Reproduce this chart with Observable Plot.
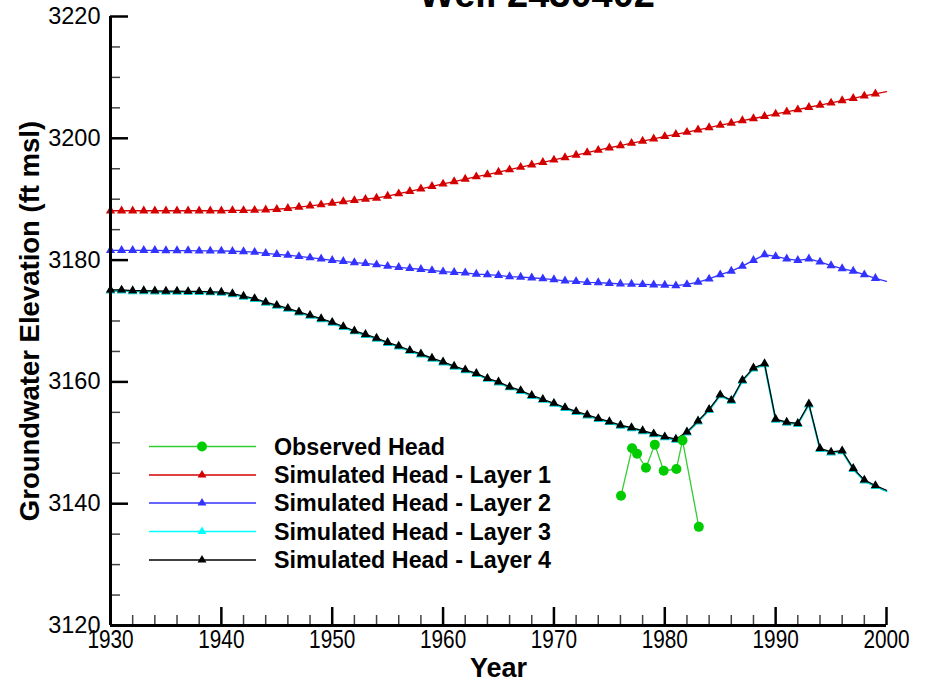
<!DOCTYPE html>
<html><head><meta charset="utf-8">
<script src="https://cdn.jsdelivr.net/npm/d3@7"></script>
<script src="https://cdn.jsdelivr.net/npm/@observablehq/plot@0.6"></script>
<style>
body{margin:0;background:#fff;font-family:"Liberation Sans",Arial,sans-serif}
#wrap{position:relative;width:934px;height:685px;overflow:hidden}
#overlay{position:absolute;left:0;top:0;pointer-events:none}
</style>
</head><body><div id="wrap"></div>
<script>
// ---- data ----
const title = "Well 2430402";
const xTitle = "Year";
const yTitle = "Groundwater Elevation (ft msl)";
const simYears = d3.range(1930, 2001);
const layer1 = [3188.1,3188.1,3188.1,3188.1,3188.1,3188.1,3188.1,3188.1,3188.1,3188.1,
  3188.1,3188.15,3188.15,3188.2,3188.25,3188.35,3188.5,3188.7,3188.9,3189.1,
  3189.35,3189.6,3189.8,3190.0,3190.2,3190.5,3190.9,3191.3,3191.7,3192.1,
  3192.5,3192.9,3193.3,3193.7,3194.05,3194.45,3194.85,3195.25,3195.65,3196.05,
  3196.45,3196.85,3197.25,3197.65,3198.05,3198.45,3198.8,3199.2,3199.55,3199.9,
  3200.3,3200.65,3201.0,3201.4,3201.75,3202.15,3202.5,3202.9,3203.25,3203.6,
  3204.0,3204.35,3204.7,3205.1,3205.45,3205.8,3206.2,3206.55,3206.95,3207.3,3207.65];
const layer2 = [3181.6,3181.6,3181.6,3181.6,3181.6,3181.55,3181.55,3181.55,3181.5,3181.5,
  3181.5,3181.45,3181.4,3181.3,3181.1,3180.95,3180.8,3180.6,3180.4,3180.2,
  3179.95,3179.8,3179.6,3179.45,3179.25,3179.0,3178.8,3178.65,3178.5,3178.3,
  3178.1,3178.0,3177.9,3177.7,3177.6,3177.5,3177.3,3177.2,3177.1,3176.95,
  3176.8,3176.6,3176.5,3176.35,3176.3,3176.2,3176.1,3176.05,3176.0,3175.95,
  3175.9,3175.8,3176.0,3176.4,3176.9,3177.6,3178.2,3179.0,3179.95,3180.9,
  3180.6,3180.2,3179.95,3180.2,3179.7,3179.1,3178.6,3178.2,3177.6,3177.0,3176.5];
const layer4 = [3175.1,3175.1,3175.0,3175.0,3174.95,3174.9,3174.9,3174.85,3174.85,3174.8,
  3174.75,3174.5,3174.1,3173.7,3173.1,3172.6,3172.1,3171.5,3170.95,3170.4,
  3169.8,3169.1,3168.4,3167.8,3167.2,3166.5,3165.9,3165.2,3164.6,3163.9,
  3163.3,3162.6,3162.0,3161.4,3160.6,3160.0,3159.2,3158.6,3157.8,3157.15,
  3156.5,3155.8,3155.15,3154.6,3154.0,3153.5,3152.9,3152.5,3152.0,3151.5,
  3151.0,3150.6,3151.8,3153.6,3155.5,3157.9,3157.0,3160.3,3162.3,3163.0,
  3153.9,3153.4,3153.2,3156.4,3149.1,3148.5,3148.7,3145.8,3143.9,3143.0,3142.2];
const layer3 = layer4.slice(); // Layer 3 coincides with Layer 4 (hidden beneath it)
const obsYears = [1976.05,1977.05,1977.5,1978.3,1979.1,1979.9,1981.05,1981.6,1983.07];
const obsHeads = [3141.3,3149.1,3148.2,3145.9,3149.7,3145.4,3145.7,3150.4,3136.2];
const lastMarkerYear = 1999;
const yMajor = [3120,3140,3160,3180,3200,3220];
const yMinor = [3125,3130,3135,3145,3150,3155,3165,3170,3175,3185,3190,3195,3205,3210,3215];
const xMajor = [1930,1940,1950,1960,1970,1980,1990,2000];
const xMinor = [1932,1934,1936,1938,1942,1944,1946,1948,1952,1954,1956,1958,1962,1964,1966,1968,
  1972,1974,1976,1978,1982,1984,1986,1988,1992,1994,1996,1998];
const legendLabels = ["Observed Head","Simulated Head - Layer 1","Simulated Head - Layer 2","Simulated Head - Layer 3","Simulated Head - Layer 4"];
const legendLine = ["#33cc33","#d40000","#3333ff","#00ffff","#000000"];
const legendMark = ["#00cc00","#d40000","#3333ff","#00ffff","#000000"];
const legendSymbol = ["circle","triangle","triangle","triangle","triangle"];

// ---- build ----
const W = 934, H = 685, mL = 110, mR = 48, mT = 16, mB = 60;
const plotW = W - mL - mR, plotH = H - mT - mB;
const FONT = '"Liberation Sans", Arial, sans-serif';
const sim = (vals) => simYears.map((yr, i) => ({year: yr, head: vals[i]}));
const s1 = sim(layer1), s2 = sim(layer2), s3 = sim(layer3), s4 = sim(layer4);
const mk = (arr) => arr.filter(d => d.year <= lastMarkerYear);
const obs = obsYears.map((yr, i) => ({year: yr, head: obsHeads[i]}));

const chart = Plot.plot({
  width: W, height: H,
  marginLeft: mL, marginRight: mR, marginTop: mT, marginBottom: mB,
  style: {fontFamily: FONT, fontSize: "23px", color: "#000", background: "#fff", overflow: "visible"},
  x: {domain: [1930, 2000]},
  y: {domain: [3120, 3220]},
  marks: [
    // minor / major ticks (inward)
    Plot.ruleY(yMinor, {y: d => d, insetRight: plotW - 10, stroke: "#444", strokeWidth: 1.5}),
    Plot.ruleY(yMajor, {y: d => d, insetRight: plotW - 18, stroke: "#000", strokeWidth: 2.5}),
    Plot.ruleX(xMinor, {x: d => d, insetTop: plotH - 10, stroke: "#444", strokeWidth: 1.5}),
    Plot.ruleX(xMajor, {x: d => d, insetTop: plotH - 18, stroke: "#000", strokeWidth: 2.5}),
    Plot.axisY({ticks: yMajor, tickSize: 0, tickPadding: 10, tickFormat: d => String(d), fontSize: 23.5, label: null}),
    Plot.axisX({ticks: xMajor, tickSize: 0, tickPadding: 4, tickFormat: d => String(d), fontSize: 26, label: null}),
    Plot.text([xTitle], {frameAnchor: "bottom", dy: 51, fontWeight: "bold", fontSize: 27, fill: "#000"}),
    Plot.text([yTitle], {frameAnchor: "left", dx: -80, rotate: -90, textAnchor: "middle", fontWeight: "bold", fontSize: 27.5, fill: "#000"}),
    // series
    Plot.line(s1, {x: "year", y: "head", stroke: "#d40000", strokeWidth: 1.3}),
    Plot.dot(mk(s1), {x: "year", y: "head", symbol: "triangle", r: 3.4, fill: "#d40000"}),
    Plot.line(s2, {x: "year", y: "head", stroke: "#3333ff", strokeWidth: 1.3}),
    Plot.dot(mk(s2), {x: "year", y: "head", symbol: "triangle", r: 3.4, fill: "#3333ff"}),
    Plot.line(s3, {x: "year", y: "head", stroke: "#00cccc", strokeWidth: 2, dy: 0.8}),
    Plot.dot(mk(s3), {x: "year", y: "head", symbol: "triangle", r: 3.6, fill: "#00cccc", dy: 0.8}),
    Plot.line(s4, {x: "year", y: "head", stroke: "#000", strokeWidth: 1.2}),
    Plot.dot(mk(s4), {x: "year", y: "head", symbol: "triangle", r: 3.4, fill: "#000"}),
    Plot.line(obs, {x: "year", y: "head", stroke: "#33cc33", strokeWidth: 1.3}),
    Plot.dot(obs, {x: "year", y: "head", r: 5, fill: "#00cc00"}),
    // axis lines
    Plot.ruleX([1930], {stroke: "#000", strokeWidth: 3}),
    Plot.ruleY([3120], {stroke: "#000", strokeWidth: 3})
  ]
});
document.getElementById("wrap").appendChild(chart);

// condense x tick labels
d3.select(chart).selectAll('g[aria-label="x-axis tick label"] text').each(function() {
  const t = this.getAttribute("transform");
  if (t) this.setAttribute("transform", t + " scale(0.8,1)");
  else {
    const x = this.getAttribute("x") || 0, y = this.getAttribute("y") || 0;
    this.removeAttribute("x"); this.removeAttribute("y");
    this.setAttribute("transform", `translate(${x},${y}) scale(0.8,1)`);
  }
});

// overlay: title + legend
const ov = d3.select("#wrap").append("svg").attr("id", "overlay")
  .attr("width", W).attr("height", H).style("font-family", FONT);
ov.append("text").attr("x", 537).attr("y", 7).attr("text-anchor", "middle")
  .attr("font-weight", "bold").attr("font-size", 38).text(title);
const rowY = [446.5, 475, 503, 531.5, 560];
const lg = ov.selectAll("g.leg").data(legendLabels).join("g")
  .attr("transform", (d, i) => `translate(0,${rowY[i]})`);
lg.append("line").attr("x1", 149).attr("x2", 256).attr("y1", 0).attr("y2", 0)
  .attr("stroke", (d, i) => legendLine[i]).attr("stroke-width", 1.3);
lg.append("path").attr("transform", "translate(202,0)")
  .attr("d", (d, i) => d3.symbol(legendSymbol[i] === "circle" ? d3.symbolCircle : d3.symbolTriangle,
     legendSymbol[i] === "circle" ? 78 : 34)())
  .attr("fill", (d, i) => legendMark[i]);
lg.append("text").attr("x", 274).attr("y", 0).attr("dy", "0.35em")
  .attr("font-weight", "bold").attr("font-size", 23.3).text(d => d);
</script>
</body></html>
